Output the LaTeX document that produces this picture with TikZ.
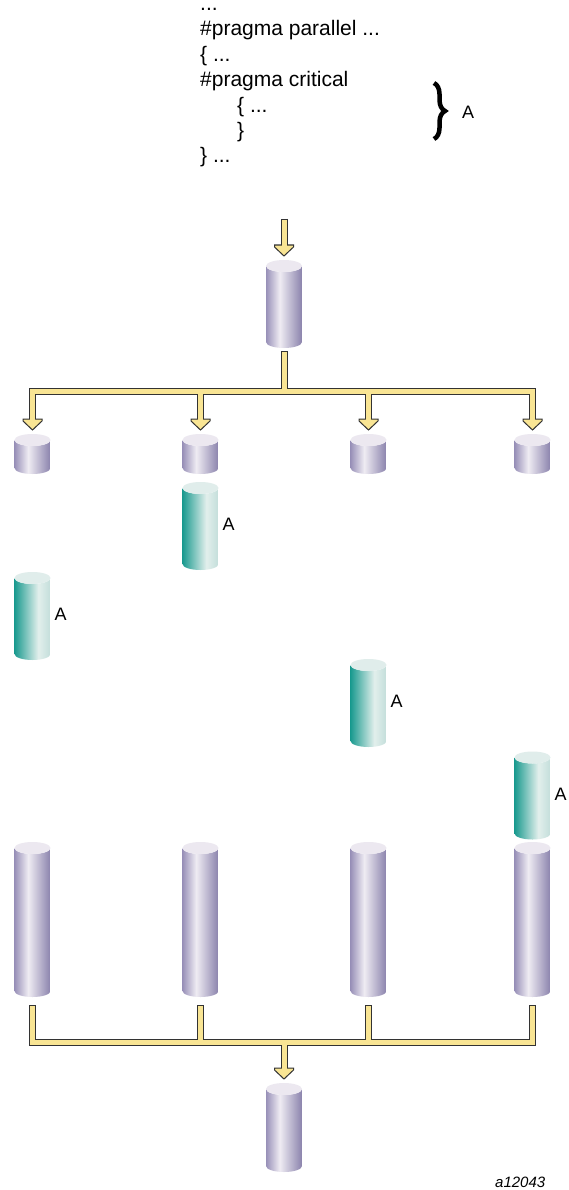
\documentclass[tikz,border=0pt]{standalone}
\usepackage{fontspec}
\setmainfont{Liberation Sans}
\usetikzlibrary{calc,decorations.pathreplacing}
\definecolor{pl}{HTML}{9890B8}
\definecolor{pm}{HTML}{EFECF3}
\definecolor{pr}{HTML}{8A82AC}
\definecolor{ptop}{HTML}{ECE8F0}
\definecolor{tl}{HTML}{1A9A8F}
\definecolor{tm}{HTML}{E2EFEC}
\definecolor{tr}{HTML}{C3DEDA}
\definecolor{ttop}{HTML}{E0EDEB}
\definecolor{yel}{HTML}{F9E594}
\definecolor{outl}{HTML}{333333}
\pgfdeclarehorizontalshading{purpsh}{100bp}{color(0bp)=(pl); color(25bp)=(pl); color(44bp)=(pm); color(75bp)=(pr); color(100bp)=(pr)}
\pgfdeclarehorizontalshading{tealsh}{100bp}{color(0bp)=(tl); color(25bp)=(tl); color(58bp)=(tm); color(75bp)=(tr); color(100bp)=(tr)}
\newcommand\fathead[1]{\draw[headst] ([shift={(-9.5pt,15pt)}]#1.north) -- ++(19pt,0pt) -- ++(0pt,-2pt) -- ([yshift=4pt]#1.north) -- ([shift={(-9.5pt,13pt)}]#1.north) -- cycle;}
\begin{document}
\begin{tikzpicture}[x=1pt,y=1pt,
  cylbase/.style n args={3}{shape=rectangle, inner sep=0pt, outer sep=0pt, minimum width=36pt, minimum height=#1, path picture={
    \shade[shading=#2] let \p1=(path picture bounding box.north west), \p2=(path picture bounding box.south east) in
      (\x1,\y1-6pt) -- (\x1,\y2+6pt) arc[start angle=180,end angle=360,x radius=18pt,y radius=6pt]
      -- (\x2,\y1-6pt) arc[start angle=0,end angle=-180,x radius=18pt,y radius=6pt] -- cycle;
    \fill[#3] let \p1=(path picture bounding box.north) in (\x1,\y1-6pt) ellipse[x radius=18pt,y radius=6pt];}},
  pcyl/.style={cylbase={#1}{purpsh}{ptop}},
  tcyl/.style={cylbase={#1}{tealsh}{ttop}},
  fatout/.style={line width=7pt, draw=outl, line join=miter, line cap=butt},
  fatin/.style={line width=5pt, draw=yel, line join=miter, line cap=butt},
  headst/.style={fill=yel, draw=outl, line width=1pt, line join=miter},
  lbl/.style={anchor=west, inner sep=0pt, font=\fontsize{18}{20}\selectfont},
  codeline/.style={anchor=base west, inner sep=0pt, font=\fontsize{21}{25}\selectfont}]
\fill[white] (0,0) rectangle (568,-1190);
\useasboundingbox (0,0) rectangle (568,-1190);

% code text
\node[codeline] (l1) at (200,-11) {...};
\node[codeline] (l2) at (200,-36) {\#pragma parallel ...};
\node[codeline] (l3) at (200,-62) {\{ ...};
\node[codeline] (l4) at (200,-87) {\#pragma critical};
\node[codeline] (l5) at (237,-113) {\{ ...};
\node[codeline] (l6) at (237,-138) {\}};
\node[codeline] (l7) at (200,-163) {\} ...};
\coordinate (bra) at (434,-83);
\coordinate (brb) at (434,-139);
\draw[decorate, decoration={brace, amplitude=11pt}, line width=4.5pt] (bra) -- (brb);
\node[anchor=west, inner sep=0pt, font=\fontsize{18}{20}\selectfont] (labA) at (462,-112.5) {A};

% cylinders
\node[pcyl=88pt] (tc) at (284,-304) {};
\node[pcyl=40pt] (s1) at (32.5,-454) {};
\node[pcyl=40pt] (s2) at (200.5,-454) {};
\node[pcyl=40pt] (s3) at (368.5,-454) {};
\node[pcyl=40pt] (s4) at (532.5,-454) {};
\node[tcyl=88pt] (a1) at (32.5,-616) {};
\node[tcyl=88pt] (a2) at (200.5,-526) {};
\node[tcyl=88pt] (a3) at (368.5,-703) {};
\node[tcyl=88pt] (a4) at (532.5,-795.5) {};
\node[lbl] (la1) at ([xshift=4pt,yshift=1.5pt]a1.east) {A};
\node[lbl] (la2) at ([xshift=4pt,yshift=2pt]a2.east) {A};
\node[lbl] (la3) at ([xshift=4pt,yshift=1.5pt]a3.east) {A};
\node[lbl] (la4) at ([xshift=4pt,yshift=1pt]a4.east) {A};
\node[pcyl=155pt] (t1) at (32.5,-919.5) {};
\node[pcyl=155pt] (t2) at (200.5,-919.5) {};
\node[pcyl=155pt] (t3) at (368.5,-919.5) {};
\node[pcyl=155pt] (t4) at (532.5,-919.5) {};
\node[pcyl=89pt] (bc) at (284,-1127.5) {};

% connectors
\coordinate (in) at (284,-220);
\coordinate (bar) at (284,-391.5);
\coordinate (bar2) at (284,-1042);
% outlines
\draw[fatout, shorten <=-1pt] (in) -- ([yshift=15pt]tc.north);
\foreach \s in {s1,s2,s3,s4}
  \draw[fatout, shorten <=-1pt] ([yshift=-4pt]tc.south) -- (bar) -| ([yshift=15pt]\s.north);
\foreach \t in {t1,t2,t3,t4}
  \draw[fatout, shorten <=-1pt] ([yshift=-9pt]\t.south) -- (\t.south |- bar2) -| ([yshift=15pt]bc.north);
% heads
\fathead{tc}
\fathead{s1}
\fathead{s2}
\fathead{s3}
\fathead{s4}
\fathead{bc}
% fills
\draw[fatin] (in) -- ([yshift=13.5pt]tc.north);
\foreach \s in {s1,s2,s3,s4}
  \draw[fatin] ([yshift=-4pt]tc.south) -- (bar) -| ([yshift=13.5pt]\s.north);
\foreach \t in {t1,t2,t3,t4}
  \draw[fatin] ([yshift=-9pt]\t.south) -- (\t.south |- bar2) -| ([yshift=13.5pt]bc.north);

\node[anchor=base west, inner sep=0pt, font=\fontsize{15}{18}\selectfont\itshape] (fig) at (495,-1187) {a12043};
\end{tikzpicture}
\end{document}
